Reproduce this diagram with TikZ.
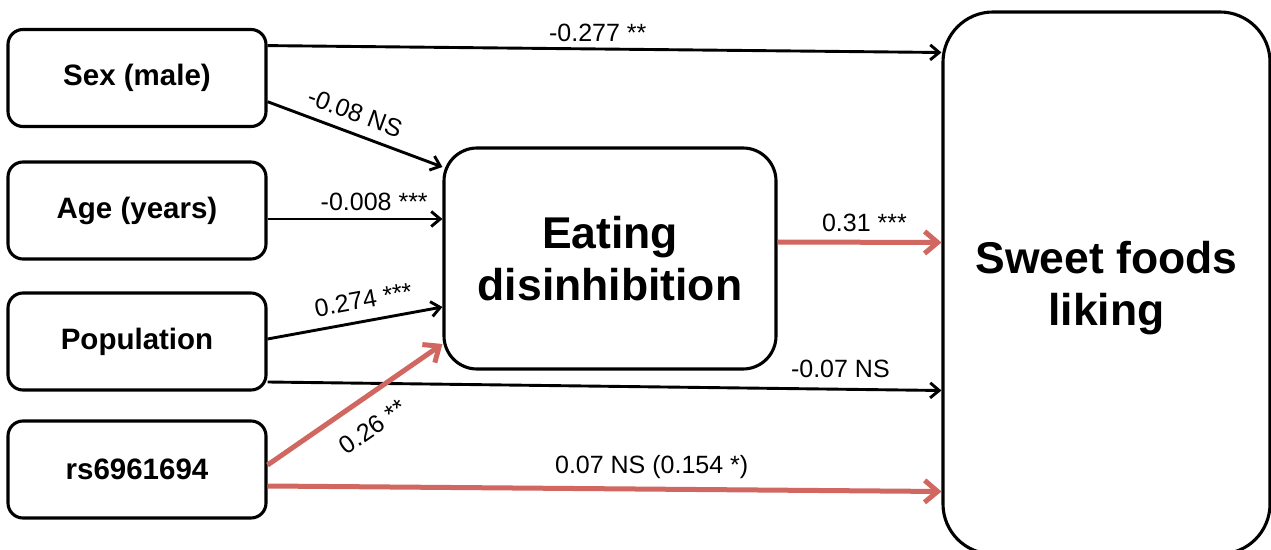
\documentclass[tikz,border=0pt]{standalone}
\usepackage{fontspec}
\setmainfont{Liberation Sans}
\usetikzlibrary{arrows.meta,calc}
\definecolor{pathred}{RGB}{208,103,96}
\begin{document}
\begin{tikzpicture}[x=1pt,y=1pt,
  box/.style={draw, line width=3.1pt, rounded corners=15pt, minimum width=258pt,
    minimum height=97pt, inner sep=0pt, align=center,
    font=\fontsize{29.5}{34}\selectfont\bfseries},
  bigbox/.style={draw, line width=3.1pt, inner sep=0pt, align=center,
    font=\fontsize{44.5}{52}\selectfont\bfseries},
  bigtext/.style={inner sep=0pt, align=center, font=\fontsize{44.5}{52}\selectfont\bfseries},
  blk/.style={line width=2.9pt, -{Straight Barb[length=9pt,width=15pt]}},
  redarr/.style={draw=pathred, line width=5pt, -{Straight Barb[length=13pt,width=22pt]}},
  lbl/.style={font=\fontsize{25}{28}\selectfont, inner sep=0pt}
]
\useasboundingbox (0,0) rectangle (1271,549);
\fill[white] (0,0) rectangle (1271,549);

\node[box] (sex) at (137,471) {Sex (male)};
\node[box] (age) at (137,338.5) {Age (years)};
\node[box] (pop) at (137,207.5) {Population};
\node[box] (rs) at (137,79.5) {rs6961694};
\node[bigbox, minimum width=332pt, minimum height=221pt, rounded corners=33pt] (eat) at (610,290.5) {Eating\\disinhibition};
\node[draw, line width=3.1pt, minimum width=327pt, minimum height=542pt, rounded corners=50pt] (sweet) at (1106.5,266) {};
\node[bigtext] (sweettxt) at ([yshift=-5pt]sweet.center) {Sweet foods\\liking};

% black connectors
\draw[blk] ([yshift=32.4pt]sex.east) -- node[lbl, above=6pt, pos=0.49]{-0.277 **} ([yshift=230.5pt]sweet.west);
\draw[blk] ([yshift=-23.7pt]sex.east) -- node[lbl, sloped, above=10pt, pos=0.46]{-0.08 NS} ([yshift=91.5pt]eat.west);
\coordinate (a3) at ([yshift=-8.5pt]age.east);
\draw[blk] (a3) -- node[lbl, above=7pt, pos=0.61]{-0.008 ***} (a3 -| eat.west);
\draw[blk] ([yshift=2.5pt]pop.east) -- node[lbl, sloped, above=11pt, pos=0.57]{0.274 ***} ([yshift=-48.5pt]eat.west);
\draw[blk] ([yshift=-40.5pt]pop.east) -- node[lbl, above=10pt, pos=0.85]{-0.07 NS} ([yshift=-107.5pt]sweet.west);

% red connectors
\draw[redarr] ([yshift=4.5pt]rs.east) -- node[lbl, sloped, below=17pt, pos=0.51]{0.26 **} ([yshift=-85.5pt]eat.west);
\draw[redarr] ([yshift=-16.5pt]rs.east) -- node[lbl, above=8pt, pos=0.57]{0.07 NS (0.154 *)} ([yshift=-208.5pt]sweet.west);
\draw[redarr] ([yshift=16.5pt]eat.east) -- node[lbl, above=8pt, pos=0.53]{0.31 ***} ([yshift=40.5pt]sweet.west);
\end{tikzpicture}
\end{document}
